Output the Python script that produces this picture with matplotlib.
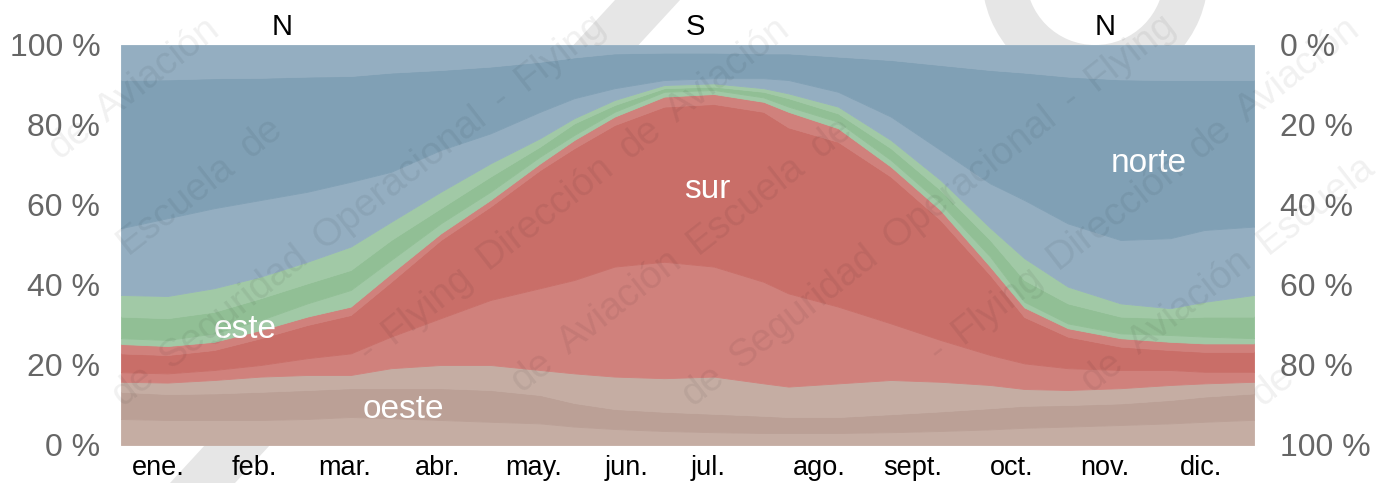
import numpy as np
import matplotlib
matplotlib.use("Agg")
import matplotlib.pyplot as plt
from matplotlib.patches import Polygon, Wedge
from matplotlib.font_manager import FontProperties

plt.rcParams['font.family'] = ['Liberation Sans', 'DejaVu Sans']

# ---- data (day of year, cumulative % boundaries from bottom) ----
days = [0, 15, 30, 45, 60, 74, 87, 103, 119, 135, 146, 159, 175, 191, 207, 215,
        231, 248, 264, 280, 291, 305, 322, 338, 349, 365]

# oeste
oeste_b1 = [6.5, 6.25, 6.25, 6.25, 6.5, 7.0, 6.7, 6.25, 5.8, 5.4, 4.6, 4.0, 3.5, 3.2, 3.0, 3.0,
            3.0, 3.2, 3.5, 3.9, 4.3, 4.6, 5.0, 5.4, 5.8, 6.3]
oeste_b2 = [13.3, 12.75, 12.9, 13.3, 13.75, 14.2, 14.2, 14.2, 13.75, 12.5, 10.5, 9.0, 8.3, 7.8, 7.3, 7.0,
            7.0, 7.7, 8.4, 9.2, 9.8, 10.0, 10.4, 11.25, 12.1, 12.9]
oeste_top = [15.8, 15.6, 16.25, 17.1, 17.5, 17.5, 19.2, 20.0, 20.0, 18.75, 17.9, 17.1, 16.7, 17.1, 15.4, 14.6,
             15.4, 16.25, 15.8, 15.0, 14.0, 13.75, 14.2, 15.0, 15.4, 15.8]
# sur
sur_b1 = [18.2, 17.9, 18.75, 20.0, 21.7, 22.9, 27.1, 31.7, 36.25, 39.2, 41.25, 44.6, 45.8, 44.6, 40.8, 37.9,
          34.6, 30.4, 26.25, 22.5, 20.4, 19.2, 18.75, 18.75, 18.3, 18.3]
sur_b2 = [22.9, 22.5, 23.75, 26.7, 30.0, 32.5, 40.8, 51.25, 59.6, 68.75, 74.2, 80.0, 84.6, 85.25, 83.3, 79.4,
          75.8, 67.1, 56.25, 42.5, 32.0, 27.1, 24.6, 23.75, 23.3, 23.3]
sur_top = [25.25, 24.75, 25.8, 28.75, 32.1, 34.6, 42.9, 52.9, 61.25, 70.4, 76.25, 82.1, 87.1, 87.75, 85.8, 83.3,
           79.2, 69.6, 58.75, 44.6, 34.4, 29.2, 26.7, 25.8, 25.4, 25.4]
# este
este_b1 = [26.7, 26.25, 27.9, 31.25, 35.4, 38.75, 46.25, 55.4, 63.3, 72.1, 77.5, 83.3, 88.3, 88.75, 86.9, 84.6,
           80.8, 71.25, 60.4, 47.1, 35.8, 30.4, 27.9, 27.5, 27.1, 26.7]
este_b2 = [32.1, 31.7, 33.3, 36.7, 40.4, 43.75, 51.25, 59.2, 67.1, 74.6, 80.4, 85.0, 89.2, 89.6, 88.3, 86.7,
           82.9, 74.2, 63.75, 51.25, 41.25, 35.4, 32.1, 31.7, 32.1, 32.1]
este_top = [37.5, 37.25, 39.2, 42.1, 45.8, 49.6, 55.8, 63.3, 70.4, 76.7, 81.7, 86.25, 90.0, 90.4, 89.2, 87.9,
            84.6, 76.25, 66.25, 54.3, 46.7, 39.6, 35.4, 34.2, 35.8, 37.5]
# norte
norte_b1 = [54.2, 56.7, 59.2, 61.25, 63.3, 65.8, 68.3, 73.75, 77.9, 83.3, 86.7, 89.2, 91.25, 91.7, 91.7, 91.25,
            88.3, 82.1, 73.75, 65.4, 61.25, 55.4, 51.25, 51.7, 53.75, 54.6]
norte_b2 = [91.25, 91.4, 91.7, 91.8, 92.1, 92.25, 93.1, 93.75, 94.6, 95.8, 96.9, 97.9, 98.1, 98.1, 97.9, 97.9,
            97.1, 96.25, 95.0, 93.75, 93.1, 92.1, 91.4, 91.25, 91.25, 91.25]

months = ['ene.', 'feb.', 'mar.', 'abr.', 'may.', 'jun.', 'jul.', 'ago.', 'sept.', 'oct.', 'nov.', 'dic.']
month_pos = [12, 43, 72, 102, 133, 163, 189, 225, 255, 287, 317, 348]
pct_ticks = [0, 20, 40, 60, 80, 100]
left_labels = ['0 %', '20 %', '40 %', '60 %', '80 %', '100 %']
right_labels = ['100 %', '80 %', '60 %', '40 %', '20 %', '0 %']
top_labels = ['N', 'S', 'N']
top_pos = [52, 185, 317]
wm_words = ['Escuela', 'de', 'Seguridad', 'Operacional', '-', 'Flying',
            'Dirección', 'de', 'Aviación']

# ---- figure ----
W, H = 1387, 483
fig = plt.figure(figsize=(W / 100, H / 100), dpi=100)
fig.patch.set_facecolor('white')

# faint background logo shapes (behind the chart)
fig.patches.append(Polygon([(170 / W, 0), (235 / W, 0), (680 / W, 1), (615 / W, 1)],
                           closed=True, transform=fig.transFigure, facecolor='#e6e6e6',
                           edgecolor='none', zorder=0))
fig.patches.append(Wedge((1095, H + 24), 113, 0, 360, width=44, transform=None,
                         facecolor='#e6e6e6', edgecolor='none', zorder=0))

ax = fig.add_axes([121 / W, 38 / H, (1254 - 121) / W, 400 / H])
ax.set_zorder(2)
ax.set_facecolor('white')

lt_brown, dk_brown = '#c5ada3', '#bba096'
lt_red, dk_red = '#d0817c', '#c96e68'
lt_green, dk_green = '#a1c9a6', '#91bf95'
lt_blue, dk_blue = '#94aec1', '#80a0b5'

zeros = [0] * len(days)
hundred = [100] * len(days)
bounds = [zeros, oeste_b1, oeste_b2, oeste_top, sur_b1, sur_b2, sur_top,
          este_b1, este_b2, este_top, norte_b1, norte_b2, hundred]
colors = [lt_brown, dk_brown, lt_brown, lt_red, dk_red, lt_red,
          lt_green, dk_green, lt_green, lt_blue, dk_blue, lt_blue]
for lo, hi, c in zip(bounds[:-1], bounds[1:], colors):
    ax.fill_between(days, lo, hi, facecolor=c, edgecolor=c, linewidth=0.6)

ax.set_xlim(0, 365)
ax.set_ylim(0, 100)
for s in ax.spines.values():
    s.set_visible(False)
ax.set_yticks(pct_ticks)
ax.set_yticklabels(left_labels, fontsize=23, color='#666666')
ax.set_xticks(month_pos)
ax.set_xticklabels(months, fontsize=19.5, color='black')
ax.tick_params(axis='y', length=0, pad=15)
ax.tick_params(axis='x', length=0, pad=7)

ax2 = ax.twinx()
ax2.set_zorder(3)
ax2.set_ylim(0, 100)
for s in ax2.spines.values():
    s.set_visible(False)
ax2.set_yticks(pct_ticks)
ax2.set_yticklabels(right_labels, fontsize=23, color='#666666')
ax2.tick_params(axis='y', length=0, pad=19)

for lab, p in zip(top_labels, top_pos):
    ax.text(p, 104.6, lab, fontsize=21, ha='center', va='center', color='black')

ax.text(189, 64.0, 'sur', fontsize=24, color='white', ha='center', va='center')
ax.text(331, 70.5, 'norte', fontsize=24, color='white', ha='center', va='center')
ax.text(40, 29, 'este', fontsize=24, color='white', ha='center', va='center')
ax.text(91, 9.0, 'oeste', fontsize=24, color='white', ha='center', va='center')

# faint diagonal watermark: words placed along parallel lines, only where fully inside
renderer = fig.canvas.get_renderer()
wm_size = 28
prop = FontProperties(family=['Liberation Sans', 'DejaVu Sans'], size=wm_size)
ang = np.deg2rad(38)
d = np.array([np.cos(ang), np.sin(ang)])
nrm = np.array([-np.sin(ang), np.cos(ang)])
space_w = renderer.get_text_width_height_descent(' ', prop, ismath=False)[0] * 1.6
margin = 3
for k in range(-9, 9):
    p = np.array([k * 190.0, -20.0])
    i = (k * 3) % len(wm_words)
    while p[0] < W + 50 and p[1] < H + 50:
        word = wm_words[i % len(wm_words)]
        w, h, dsc = renderer.get_text_width_height_descent(word, prop, ismath=False)
        corners = [p, p + w * d, p + (h - dsc) * nrm, p + w * d + (h - dsc) * nrm,
                   p - dsc * nrm, p + w * d - dsc * nrm]
        inside = all(margin <= c[0] <= W - margin and margin <= c[1] <= H - margin
                     for c in corners)
        if inside:
            fig.text(p[0] / W, p[1] / H, word, rotation=38, rotation_mode='anchor',
                     fontproperties=prop, color=(0, 0, 0, 0.06),
                     ha='left', va='baseline', zorder=10)
        p = p + (w + space_w) * d
        i += 1

fig.savefig('out.png', dpi=100)
